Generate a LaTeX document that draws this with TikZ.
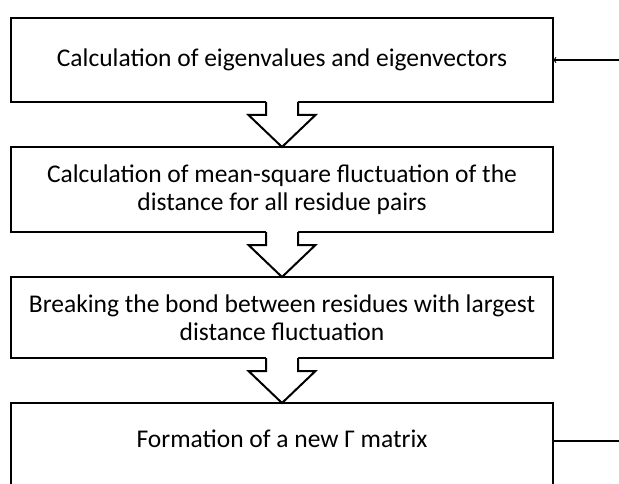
\documentclass[tikz,border=0pt]{standalone}
\usepackage{fontspec}
\setmainfont{Carlito}
\usetikzlibrary{positioning}

% Blockpfeil zwischen zwei Kaesten
\newcommand{\blockdown}[2]{%
  \fill[white] ([xshift=-16pt, yshift=1.5pt]#1.south) -- ++(0,-14.5) -- ++(-17.5,0) -- (#2.north)
    -- ([xshift=33.5pt, yshift=-13pt]#1.south) -- ++(-17.5,0) -- ++(0,14.5) -- cycle;
  \draw[blockarrow] ([xshift=-16pt]#1.south) -- ++(0,-13) -- ++(-17.5,0) -- (#2.north)
    -- ([xshift=33.5pt, yshift=-13pt]#1.south) -- ++(-17.5,0) -- ++(0,13);
}

\begin{document}
\begin{tikzpicture}[x=1pt, y=1pt,
  every node/.style={font=\fontsize{25.5}{27.5}\selectfont},
  stepbox/.style={draw, line width=2pt, minimum width=542pt, minimum height=84pt,
    align=center, inner sep=0pt, outer sep=0pt},
  blockarrow/.style={line width=2pt, line join=miter},
  loopline/.style={line width=1.2pt}]

  \useasboundingbox (0,0) rectangle (619,-484);

  % Kaesten
  \node[stepbox] (eig) at (282,-60) {Calculation of eigenvalues and eigenvectors};
  \node[stepbox, minimum height=85pt, below=45pt of eig] (msf)
    {Calculation of mean-square fluctuation of the\\distance for all residue pairs};
  \node[stepbox, minimum height=81pt, below=45pt of msf] (brk)
    {Breaking the bond between residues with largest\\distance fluctuation};
  \node[stepbox, text depth=12pt, below=45pt of brk] (gam) {Formation of a new Γ matrix};

  % Pfeile
  \blockdown{eig}{msf}
  \blockdown{msf}{brk}
  \blockdown{brk}{gam}

  % Rueckfuehrung
  \coordinate[right=72pt of eig.east] (loopin);
  \coordinate[right=72pt of gam.east] (loopout);
  \draw[loopline, <-] (eig.east) -- (loopin);
  \draw[loopline] ([yshift=4pt]gam.east) -- ([yshift=4pt]loopout);

\end{tikzpicture}
\end{document}
